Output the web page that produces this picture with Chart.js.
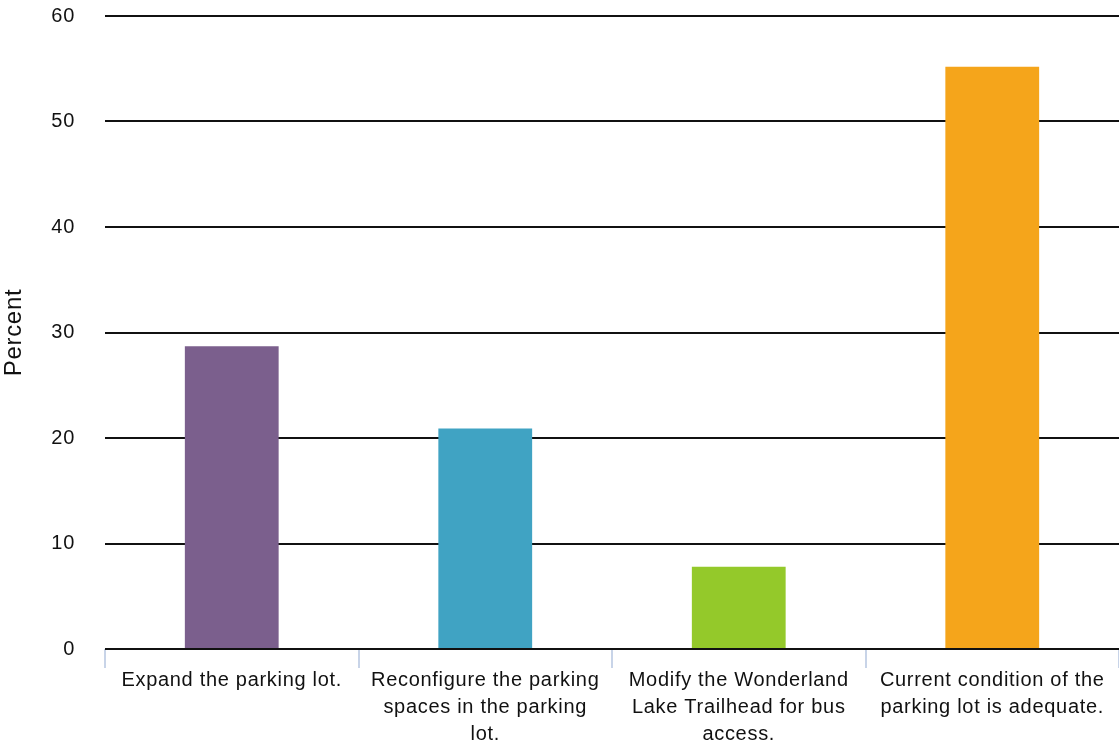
<!DOCTYPE html>
<html>
<head>
<meta charset="utf-8">
<script src="https://cdn.jsdelivr.net/npm/chart.js@4.4.1/dist/chart.umd.min.js"></script>
<style>
  html, body { margin: 0; padding: 0; background: #fff; }
  #wrap { width: 1119px; height: 748px; }
</style>
</head>
<body>
<div id="wrap"><canvas id="myChart" width="1119" height="748"></canvas></div>
<script>
const categories = [
    ['Expand the parking lot.'],
    ['Reconfigure the parking', 'spaces in the parking', 'lot.'],
    ['Modify the Wonderland', 'Lake Trailhead for bus', 'access.'],
    ['Current condition of the', 'parking lot is adequate.']
];
const percentValues = [28.7, 20.9, 7.8, 55.2];
const barColors = ['#7b5f8d', '#40a3c3', '#94c92a', '#f5a51b'];
const yTicks = [0, 10, 20, 30, 40, 50, 60];

// slightly loose tracking like the original
const spacing = {
    id: 'spacing',
    beforeInit(chart) { chart.ctx.letterSpacing = '0.7px'; },
    beforeDraw(chart) { chart.ctx.letterSpacing = '0.7px'; }
};

const ctx = document.getElementById('myChart');

new Chart(ctx, {
    type: 'bar',
    data: {
        labels: categories,
        datasets: [{
            label: 'Percent',
            data: percentValues,
            backgroundColor: barColors,
            borderWidth: 0,
            barPercentage: 0.37,
            categoryPercentage: 1.0
        }]
    },
    plugins: [spacing],
    options: {
        responsive: false,
        animation: false,
        layout: { padding: { top: 16, right: -4, left: 0, bottom: 0 } },
        plugins: {
            legend: { display: false },
            tooltip: { enabled: false }
        },
        scales: {
            x: {
                offset: true,
                border: { display: false },
                grid: {
                    offset: true,
                    drawOnChartArea: false,
                    drawTicks: true,
                    tickLength: 19,
                    color: '#c8d4e8',
                    lineWidth: 2
                },
                ticks: {
                    color: '#111',
                    padding: -1,
                    maxRotation: 0,
                    autoSkip: false,
                    font: { family: 'Liberation Sans', size: 20, lineHeight: 1.35 }
                },
                afterFit: function (axis) {
                    axis.height = 99;
                    axis.paddingLeft = 0;
                    axis.paddingRight = 0;
                }
            },
            y: {
                min: 0,
                max: 60,
                border: { display: false },
                grid: {
                    color: '#111',
                    lineWidth: 2,
                    drawTicks: false
                },
                afterBuildTicks: function (axis) {
                    axis.ticks = yTicks.map(v => ({ value: v }));
                },
                ticks: {
                    color: '#111',
                    padding: 30,
                    font: { family: 'Liberation Sans', size: 20 }
                },
                title: {
                    display: true,
                    text: 'Percent',
                    color: '#111',
                    padding: 0,
                    font: { family: 'Liberation Sans', size: 24 }
                },
                afterFit: function (axis) {
                    axis.width = 105;
                    axis.paddingTop = 0;
                    axis.paddingBottom = 0;
                }
            }
        }
    }
});
</script>
</body>
</html>
